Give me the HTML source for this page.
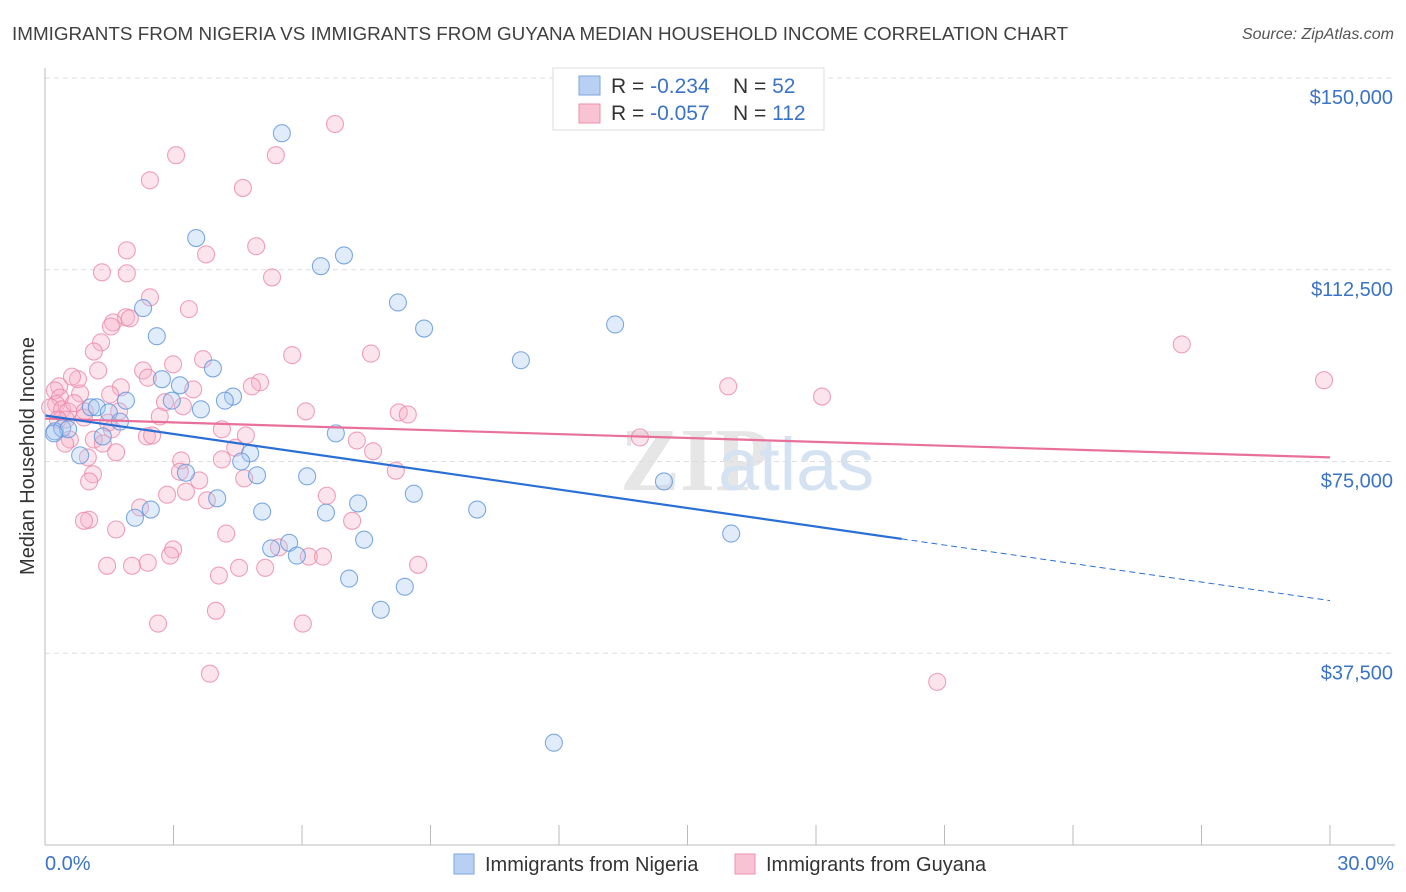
<!DOCTYPE html>
<html><head><meta charset="utf-8"><style>
body{margin:0;background:#fff;font-family:"Liberation Sans",sans-serif;}
svg{display:block}
</style></head><body>
<svg id="chart" width="1406" height="892" xmlns="http://www.w3.org/2000/svg">
<text x="12" y="40" font-size="18.5" fill="#404040" textLength="1056" lengthAdjust="spacingAndGlyphs">IMMIGRANTS FROM NIGERIA VS IMMIGRANTS FROM GUYANA MEDIAN HOUSEHOLD INCOME CORRELATION CHART</text>
<text x="1394" y="39" font-size="16" fill="#555" font-style="italic" text-anchor="end">Source: ZipAtlas.com</text>
<text x="34" y="456" font-size="20" fill="#333" text-anchor="middle" transform="rotate(-90 34 456)">Median Household Income</text>
<text x="620" y="490" font-size="90" fill="#e6e6e6" font-family="Liberation Serif,serif" font-weight="bold">ZIP</text>
<text x="718" y="490" font-size="74" fill="#d5e2f2">atlas</text>
<g id="grid"></g><g id="pts"></g><g id="lines"></g>
<line x1="45" y1="68" x2="45" y2="845" stroke="#bbb"/>
<line x1="45" y1="845" x2="1395" y2="845" stroke="#bbb"/>
<text x="45" y="870" font-size="20" fill="#3b73c8">0.0%</text>
<text x="1394" y="870" font-size="20" fill="#3b73c8" text-anchor="end">30.0%</text>
<g>
<rect x="553" y="68" width="271" height="62" fill="#fff" stroke="#ddd"/>
<rect x="579" y="76" width="21" height="19" fill="#b8d0f2" stroke="#7ea6e0"/>
<rect x="579" y="104" width="21" height="19" fill="#f8c4d4" stroke="#ee91ad"/>
<text x="611" y="93" font-size="21" fill="#333">R = <tspan fill="#3b73c8">-0.234</tspan></text>
<text x="733" y="93" font-size="21" fill="#333">N = <tspan fill="#3b73c8"> 52</tspan></text>
<text x="611" y="120" font-size="21" fill="#333">R = <tspan fill="#3b73c8">-0.057</tspan></text>
<text x="733" y="120" font-size="21" fill="#333">N = <tspan fill="#3b73c8">112</tspan></text>
</g>
<g><rect x="454" y="854" width="20" height="20" fill="#b8d0f2" stroke="#7ea6e0"/><text x="485" y="871" font-size="20" fill="#333">Immigrants from Nigeria</text></g>
<g><rect x="735" y="854" width="20" height="20" fill="#f8c4d4" stroke="#ee91ad"/><text x="766" y="871" font-size="20" fill="#333">Immigrants from Guyana</text></g>
</svg>
<script>
const yTicks=[37500,75000,112500,150000];
const yTickLabels=["$37,500","$75,000","$112,500","$150,000"];
const xTicks=[0,3,6,9,12,15,18,21,24,27,30];
const nigeriaX=[5.53,3.53,6.98,6.44,2.29,8.24,8.85,13.31,2.61,11.11,3.92,2.73,3.15,4.39,4.20,2.96,3.64,1.07,1.21,1.89,1.49,1.75,0.23,0.40,0.54,1.35,0.82,6.79,4.79,4.58,4.95,6.12,3.29,8.61,4.02,7.31,2.47,5.07,6.56,10.09,2.10,14.45,16.02,7.45,5.70,5.28,5.88,7.10,8.40,7.84,11.88,0.21];
const nigeriaY=[139200,118700,115300,113200,105000,106100,101000,101800,99500,94800,93200,91100,89900,87700,86900,86900,85200,85600,85600,86900,84600,82800,80900,81500,81300,79900,76200,80500,76600,75000,72300,72100,72800,68700,67800,66800,65600,65200,65000,65600,64000,71100,60900,59700,59100,58000,56600,52100,50500,46000,20000,80500];
const guyanaX=[6.77,3.06,5.39,2.45,4.62,4.93,1.91,3.76,1.33,1.91,5.30,2.45,3.36,1.89,1.98,1.59,1.54,1.31,1.14,5.77,7.61,26.54,3.69,2.99,2.29,1.24,0.33,0.23,0.77,0.63,29.86,15.95,5.02,3.46,1.77,2.80,0.35,0.82,0.26,0.12,0.40,0.54,0.68,0.93,18.14,6.09,8.26,8.47,4.13,1.56,0.91,1.47,1.73,0.49,2.68,2.38,2.50,1.14,1.35,0.58,13.89,7.28,4.69,4.44,7.66,4.13,1.66,1.00,3.18,3.15,8.19,1.12,4.65,3.60,1.03,2.85,3.29,3.78,6.58,2.22,1.03,0.91,1.66,4.23,7.17,2.99,2.92,2.03,1.45,2.40,5.46,6.16,6.49,4.53,5.14,8.71,4.06,3.99,2.64,6.02,3.85,20.83,0.47,0.30,1.52,3.22,4.83,2.40];
const guyanaY=[141000,134900,134900,130000,128500,117100,116300,115500,112000,111800,111000,107100,104800,103200,103000,102200,101400,98300,96500,95800,96100,97900,95000,94000,92800,92800,89700,88900,91100,91600,90900,89700,90500,89100,89500,86600,87500,88300,86200,85600,85200,84800,86400,84800,87700,84800,84600,84200,81300,81300,83600,82600,84800,83200,83800,79900,80100,79300,78500,79300,79700,79100,80100,77700,77000,75400,76800,75800,75200,73000,73200,72500,71700,71300,71100,68500,69100,67400,68300,66000,63600,63400,61700,60900,63400,57800,56600,54600,54600,55200,58200,56400,56400,54200,54200,54800,52700,45800,43300,43300,33500,31900,78500,83200,88100,85800,89700,91400];
const nigeriaTrend=[84000,47800];
const guyanaTrend=[83400,75800];
const nigeriaSolidEnd=20;
const NS="http://www.w3.org/2000/svg";
function sx(p){return 45+p/30*1285;}
function sy(v){return 845-v/150000*767;}
function mk(tag,attrs,parent){const e=document.createElementNS(NS,tag);for(const k in attrs)e.setAttribute(k,attrs[k]);parent.appendChild(e);return e;}
const grid=document.getElementById('grid'),pts=document.getElementById('pts'),lines=document.getElementById('lines'),svg=document.getElementById('chart');
yTicks.forEach((t,i)=>{
  const l=mk('line',{x1:45,x2:1395,y1:sy(t),y2:sy(t),stroke:'#ddd','stroke-dasharray':'5,4'},grid);
  
  
  const tx=mk('text',{x:1393,y:sy(t)+26,'font-size':20,fill:'#3b73c8','text-anchor':'end'},svg);
  tx.textContent=yTickLabels[i];
  
  
});
xTicks.forEach(t=>{
  const l=mk('line',{x1:sx(t),x2:sx(t),y1:825,y2:845,stroke:'#bbb'},grid);
  
  
});
function drawPts(xs,ys,fill,stroke,name){
  xs.forEach((x,i)=>{
    const c=mk('circle',{cx:sx(x),cy:sy(ys[i]),r:8.5,fill:fill,'fill-opacity':0.35,stroke:stroke,'stroke-opacity':0.8,'stroke-width':1.1},pts);
    
    
  });
}
drawPts(guyanaX,guyanaY,'#f6b3c8','#ec8aa9','guyana-point');
drawPts(nigeriaX,nigeriaY,'#a9c8f0','#5f95dc','nigeria-point');
function lv(tr,p){return tr[0]+(tr[1]-tr[0])*p/30;}
const gl=mk('line',{x1:sx(0),y1:sy(guyanaTrend[0]),x2:sx(30),y2:sy(guyanaTrend[1]),stroke:'#e8709a','stroke-width':2.2},lines);


const nl=mk('line',{x1:sx(0),y1:sy(nigeriaTrend[0]),x2:sx(nigeriaSolidEnd),y2:sy(lv(nigeriaTrend,nigeriaSolidEnd)),stroke:'#2a6fd6','stroke-width':2.2},lines);


const nd=mk('line',{x1:sx(nigeriaSolidEnd),y1:sy(lv(nigeriaTrend,nigeriaSolidEnd)),x2:sx(30),y2:sy(nigeriaTrend[1]),stroke:'#2a6fd6','stroke-width':1,'stroke-dasharray':'6,4'},lines);


</script>
</body></html>
